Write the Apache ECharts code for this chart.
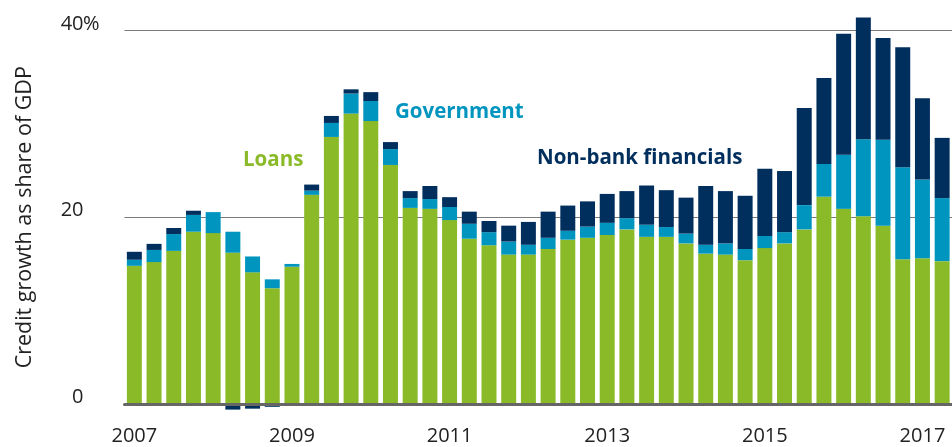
<!DOCTYPE html>
<html>
<head>
<meta charset="utf-8">
<script src="https://cdn.jsdelivr.net/npm/echarts@6/dist/echarts.min.js"></script>
<style>html,body{margin:0;padding:0;background:#fff;}#c{width:952px;height:447px;}</style>
</head>
<body>
<div id="c"></div>
<script>
var years = [2007,2008,2009,2010,2011,2012,2013,2014,2015,2016,2017];
var categories = [];
years.forEach(function(y){ [1,2,3,4].forEach(function(q){ if (categories.length < 42) categories.push(y + ' Q' + q); }); });

var loans = [14.8,15.2,16.4,18.45,18.3,16.2,14.1,12.4,14.7,22.4,
             28.6,31.1,30.3,25.6,21.0,20.9,19.7,17.7,17.0,16.0,
             16.0,16.6,17.6,17.8,18.1,18.7,17.9,17.9,17.2,16.1,
             16.0,15.4,16.7,17.2,18.7,22.2,20.9,20.1,19.1,15.5,
             15.6,15.3];
var government = [0.65,1.3,1.8,1.8,2.25,2.25,1.7,0.95,0.3,0.45,
                  1.5,2.15,2.15,1.7,1.05,1.05,1.4,1.6,1.4,1.4,
                  1.05,1.2,0.95,1.2,1.3,1.2,1.3,1.05,1.05,0.95,
                  1.2,1.2,1.3,1.2,2.6,3.5,5.8,8.25,9.2,9.85,
                  8.45,6.75];
var nonBank = [0.85,0.65,0.65,0.45,0,-0.6,-0.5,-0.3,0,0.65,
               0.75,0.45,0.95,0.75,0.75,1.4,1.05,1.3,1.2,1.7,
               2.45,2.8,2.7,2.7,3.1,2.9,4.2,3.95,3.85,6.3,
               5.6,5.7,7.2,6.55,10.4,9.2,12.95,13.05,10.9,12.85,
               8.7,6.45];
var yTicks = [0, 20, 40];

var FONT = '"Open Sans"';
var chart = echarts.init(document.getElementById('c'), null, {renderer: 'canvas'});
function bar(name, data, color) {
  return {
    name: name, type: 'bar', stack: 'total', data: data, clip: false,
    barCategoryGap: '24%',
    itemStyle: {color: color},
    emphasis: {disabled: true}
  };
}
function note(text, x, y, color, size, weight) {
  return {type: 'text', x: x, y: y, style: {
    text: text, fill: color, fontSize: size, fontWeight: weight || 'normal',
    fontFamily: 'Open Sans', align: 'left', verticalAlign: 'middle'}};
}
chart.setOption({
  animation: false,
  textStyle: {fontFamily: FONT},
  grid: {left: 124.5, right: -4.5, top: 30.5, bottom: 43, containLabel: false},
  xAxis: {
    type: 'category', data: categories,
    axisLine: {show: true, lineStyle: {color: '#666', width: 3}},
    axisTick: {show: false},
    axisLabel: {
      interval: function(i){ return i % 8 === 0; },
      formatter: function(v){ return v.slice(0,4); },
      color: '#222', fontSize: 20, fontFamily: FONT, margin: 22
    },
    z: 5
  },
  yAxis: {
    type: 'value', min: yTicks[0], max: yTicks[yTicks.length-1], interval: 20,
    name: 'Credit growth as share of GDP', nameLocation: 'middle', nameGap: 89,
    nameTextStyle: {color: '#222', fontSize: 21.5, fontFamily: FONT},
    axisLine: {show: false}, axisTick: {show: false},
    axisLabel: {color: '#222', fontSize: 20, fontFamily: FONT, margin: 41,
                verticalAlign: 'bottom', lineHeight: 13},
    splitLine: {lineStyle: {color: '#7a7a7a', width: 1.2}}
  },
  graphic: [
    note('%', 83, 24, '#222', 20),
    note('Loans', 243, 160, '#8aba27', 20.5, 'bold'),
    note('Government', 395, 112, '#0095bf', 20.5, 'bold'),
    note('Non-bank financials', 537, 158, '#002e5d', 20.5, 'bold')
  ],
  series: [
    bar('Loans', loans, '#8aba27'),
    bar('Government', government, '#0095bf'),
    bar('Non-bank financials', nonBank, '#002e5d')
  ]
});
</script>
</body>
</html>
